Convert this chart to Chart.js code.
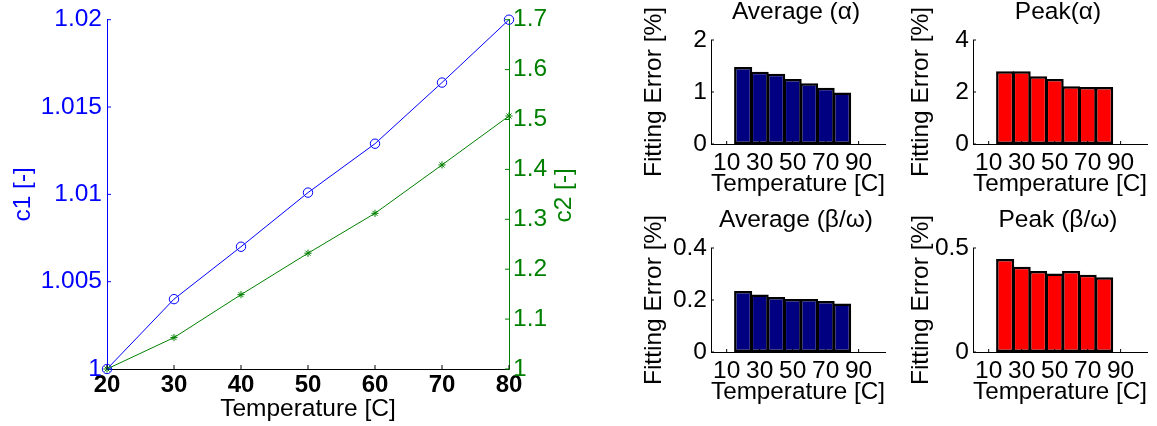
<!DOCTYPE html>
<html>
<head>
<meta charset="utf-8">
<script src="https://cdn.jsdelivr.net/npm/chart.js@4.4.0/dist/chart.umd.min.js"></script>
<style>
  html, body { margin: 0; padding: 0; background: #fff; }
  body { width: 1157px; height: 426px; position: relative; overflow: hidden; }
  .box { position: absolute; }
</style>
</head>
<body>
<div class="box" style="left:0;top:0;width:600px;height:426px"><canvas id="main-chart"></canvas></div>
<div class="box" style="left:627px;top:0;width:264px;height:206px"><canvas id="avg-alpha"></canvas></div>
<div class="box" style="left:889px;top:0;width:264px;height:206px"><canvas id="peak-alpha"></canvas></div>
<div class="box" style="left:627px;top:208px;width:264px;height:206px"><canvas id="avg-bw"></canvas></div>
<div class="box" style="left:889px;top:208px;width:264px;height:206px"><canvas id="peak-bw"></canvas></div>

<script>
// c1 / c2 versus temperature
const temps = [20, 30, 40, 50, 60, 70, 80];
const c1Values = [1.0, 1.0040, 1.0070, 1.0101, 1.0129, 1.0164, 1.0200];
const c2Values = [1.0, 1.063, 1.149, 1.232, 1.312, 1.409, 1.507];
const tempTicks = [20, 30, 40, 50, 60, 70, 80];
const c1Ticks = [1, 1.005, 1.01, 1.015, 1.02];
const c2Ticks = [1, 1.1, 1.2, 1.3, 1.4, 1.5, 1.6, 1.7];

// fitting error panels
const barTemps = [20, 30, 40, 50, 60, 70, 80];
const barXTicks = [10, 30, 50, 70, 90];
const avgAlpha = [1.48, 1.39, 1.35, 1.25, 1.17, 1.08, 0.99];
const peakAlpha = [2.80, 2.80, 2.61, 2.50, 2.22, 2.19, 2.19];
const avgBetaOmega = [0.235, 0.221, 0.212, 0.204, 0.204, 0.196, 0.187];
const peakBetaOmega = [0.447, 0.410, 0.390, 0.378, 0.390, 0.371, 0.359];
const avgAlphaTicks = [0, 1, 2];
const peakAlphaTicks = [0, 2, 4];
const avgBetaOmegaTicks = [0, 0.2, 0.4];
const peakBetaOmegaTicks = [0, 0.5];

Chart.defaults.font.family = '"Liberation Sans", Arial, sans-serif';
Chart.defaults.font.size = 24.5;

const FONT = { size: 24.5 };

// MATLAB-style tick marks pointing into the plot
const inwardTicks = {
  id: 'inwardTicks',
  afterDatasetsDraw(chart, args, opts) {
    const ctx = chart.ctx;
    const len = opts.length || 4;
    ctx.save();
    ctx.lineWidth = 1;
    Object.values(chart.scales).forEach(s => {
      ctx.strokeStyle = s.options.border.color;
      s.ticks.forEach(t => {
        const p = s.getPixelForValue(t.value);
        ctx.beginPath();
        if (s.isHorizontal()) {
          ctx.moveTo(p, s.top); ctx.lineTo(p, s.top - len);
        } else if (s.position === 'left') {
          ctx.moveTo(s.right, p); ctx.lineTo(s.right + len, p);
        } else {
          ctx.moveTo(s.left, p); ctx.lineTo(s.left - len, p);
        }
        ctx.stroke();
      });
    });
    ctx.restore();
  }
};

// panel titles and the right-hand axis label
const extraText = {
  id: 'extraText',
  afterDraw(chart, args, opts) {
    const { ctx, chartArea: a } = chart;
    (opts.items || []).forEach(it => {
      const cx = (a.left + a.right) / 2, cy = (a.top + a.bottom) / 2;
      const x = it.anchor === 'right' ? a.right + it.dx : cx + it.dx;
      const y = it.anchor === 'top' ? a.top + it.dy : cy + it.dy;
      ctx.save();
      ctx.translate(x, y);
      ctx.rotate(it.rotate || 0);
      ctx.font = '24.5px "Liberation Sans", Arial, sans-serif';
      ctx.fillStyle = it.color || '#000';
      ctx.textAlign = 'center';
      ctx.textBaseline = 'middle';
      ctx.fillText(it.text, 0, 0);
      ctx.restore();
    });
  }
};

const fixedTicks = arr => s => { s.ticks = arr.map(v => ({ value: v })); };

new Chart(document.getElementById('main-chart'), {
  type: 'line',
  data: {
    datasets: [{
      label: 'c1',
      data: temps.map((t, i) => ({ x: t, y: c1Values[i] })),
      yAxisID: 'y',
      borderColor: '#0000ff',
      borderWidth: 1,
      pointStyle: 'circle',
      pointRadius: 4.7,
      pointBackgroundColor: 'rgba(0,0,0,0)',
      pointBorderColor: '#0000ff',
      pointBorderWidth: 1,
      clip: false,
      order: 1
    }, {
      label: 'c2',
      data: temps.map((t, i) => ({ x: t, y: c2Values[i] })),
      yAxisID: 'y2',
      borderColor: '#008000',
      borderWidth: 1,
      pointStyle: 'star',
      pointRadius: 3.6,
      pointBorderColor: '#008000',
      pointBorderWidth: 1,
      clip: false,
      order: 0
    }]
  },
  options: {
    responsive: true,
    maintainAspectRatio: false,
    animation: false,
    layout: { padding: { top: 19, left: 0, right: 0, bottom: 0 } },
    plugins: {
      legend: { display: false },
      tooltip: { enabled: false },
      inwardTicks: { length: 4 },
      extraText: { items: [{ text: 'c2 [-]', anchor: 'right', dx: 55, dy: 1, rotate: -Math.PI / 2, color: '#008000' }] }
    },
    scales: {
      x: {
        type: 'linear', min: 20, max: 80,
        afterBuildTicks: fixedTicks(tempTicks),
        grid: { display: false, drawTicks: false },
        border: { display: true, color: '#000', width: 1 },
        ticks: { color: '#000', font: { size: 24, weight: 'bold' }, padding: 2.3, maxRotation: 0, autoSkip: false, callback: v => String(v) },
        title: { display: true, text: 'Temperature [C]', color: '#000', font: FONT, padding: { top: 0, bottom: 2 } },
        afterFit: s => { s.height = 57; }
      },
      y: {
        type: 'linear', position: 'left', min: 1, max: 1.02,
        afterBuildTicks: fixedTicks(c1Ticks),
        grid: { display: false, drawTicks: false },
        border: { display: true, color: '#0000ff', width: 1 },
        ticks: { color: '#0000ff', font: FONT, padding: 5, callback: v => String(v) },
        title: { display: true, text: 'c1 [-]', color: '#0000ff', font: FONT, padding: { top: 9, bottom: 0 } },
        afterFit: s => { s.width = 107; }
      },
      y2: {
        type: 'linear', position: 'right', min: 1, max: 1.7,
        afterBuildTicks: fixedTicks(c2Ticks),
        grid: { display: false, drawTicks: false },
        border: { display: true, color: '#008000', width: 1 },
        ticks: { color: '#008000', font: FONT, padding: 4, callback: v => String(v) },
        afterFit: s => { s.width = 91; }
      }
    }
  },
  plugins: [inwardTicks, extraText]
});

function errorChart(id, title, values, color, yTicks, titlePad) {
  new Chart(document.getElementById(id), {
    type: 'bar',
    data: {
      datasets: [{
        data: barTemps.map((t, i) => ({ x: t, y: values[i] })),
        backgroundColor: color,
        borderColor: '#000',
        borderWidth: 2.5,
        borderSkipped: false,
        barPercentage: 1.1,
        categoryPercentage: 1
      }]
    },
    options: {
      responsive: true,
      maintainAspectRatio: false,
      animation: false,
      layout: { padding: { top: 40, right: 6, left: 0, bottom: 0 } },
      plugins: {
        legend: { display: false },
        tooltip: { enabled: false },
        inwardTicks: { length: 3 },
        extraText: { items: [{ text: title, anchor: 'top', dx: -2, dy: -27.5 }] }
      },
      scales: {
        x: {
          type: 'linear', min: 0.5, max: 106, offset: false,
          afterBuildTicks: fixedTicks(barXTicks),
          grid: { display: false, drawTicks: false },
          border: { display: true, color: '#000', width: 1 },
          ticks: { color: '#000', font: FONT, padding: 4.6, maxRotation: 0, autoSkip: false, callback: v => String(v) },
          title: { display: true, text: 'Temperature [C]', color: '#000', font: FONT, padding: { top: 0, bottom: 6.8 } },
          afterFit: s => { s.height = 62; }
        },
        y: {
          type: 'linear', min: 0, max: yTicks[yTicks.length - 1],
          afterBuildTicks: fixedTicks(yTicks),
          grid: { display: false, drawTicks: false },
          border: { display: true, color: '#000', width: 1 },
          ticks: { color: '#000', font: FONT, padding: 4, callback: v => String(v) },
          title: { display: true, text: 'Fitting Error [%]', color: '#000', font: FONT, padding: { top: titlePad, bottom: 0 } },
          afterFit: s => { s.width = 84; }
        }
      }
    },
    plugins: [inwardTicks, extraText]
  });
}

errorChart('avg-alpha', 'Average (α)', avgAlpha, '#000080', avgAlphaTicks, 13);
errorChart('peak-alpha', 'Peak(α)', peakAlpha, '#ff0000', peakAlphaTicks, 18);
errorChart('avg-bw', 'Average (β/ω)', avgBetaOmega, '#000080', avgBetaOmegaTicks, 13);
errorChart('peak-bw', 'Peak (β/ω)', peakBetaOmega, '#ff0000', peakBetaOmegaTicks, 18);
</script>
</body>
</html>
